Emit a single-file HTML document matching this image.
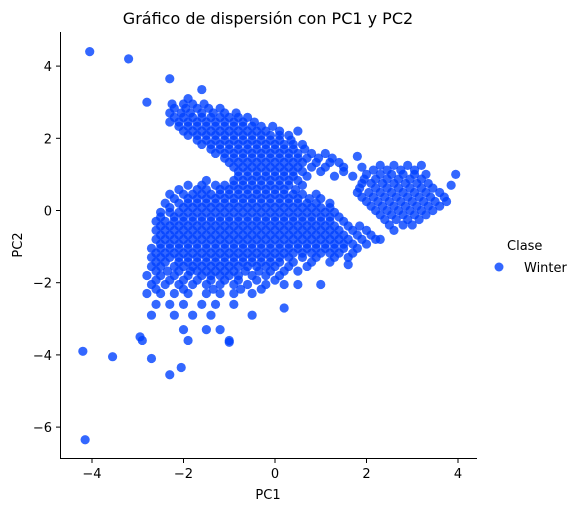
<!DOCTYPE html>
<html><head><meta charset="utf-8"><style>
body{margin:0;background:#fff;}
svg{display:block;font-family:"DejaVu Sans","Liberation Sans",sans-serif;}
</style></head><body>
<svg id="chart" width="581" height="512" viewBox="0 0 581 512">
<text x="268" y="24" font-size="16" text-anchor="middle">Gráfico de dispersión con PC1 y PC2</text>
<g id="points"></g>
<line x1="60.5" y1="32" x2="60.5" y2="458.5" stroke="#000" stroke-width="1"/>
<line x1="60" y1="458.5" x2="477" y2="458.5" stroke="#000" stroke-width="1"/>
<g id="xticks"></g>
<g id="yticks"></g>
<text x="268" y="499" font-size="13" text-anchor="middle">PC1</text>
<text transform="translate(22,245) rotate(-90)" font-size="13" text-anchor="middle">PC2</text>
<g>
<text x="507" y="250" font-size="13">Clase</text>
<circle cx="499" cy="267" r="4.5" fill="#0041ff" fill-opacity="0.8"/>
<text x="524" y="272" font-size="13">Winter</text>
</g>
</svg>
<script>
const xTicks = [-4, -2, 0, 2, 4];
const yTicks = [4, 2, 0, -2, -4, -6];
const rowY = [2.95,2.7,2.45,2.2,1.95,1.7,1.45,1.2,0.95,0.7,0.45,0.2,-0.05,-0.3,-0.55,-0.8,-1.05,-1.3,-1.55,-1.8,-2.05,-2.3,-2.6,-2.9,-3.3,-3.6,1.25,1.0,0.75,0.5,0.25,0.0,-0.25,-0.55,
2.83,2.58,2.33,2.08,1.83,1.58,1.33,1.08,0.83,0.58,0.33,0.08,-0.18,-0.43,-0.68,-0.93,-1.18,-1.43,-1.68,-1.93,-2.18,
1.12,0.87,0.62,0.37,0.12,-0.12,-0.4];
const rowX = [
[-2.25,-2.0,-1.8,-1.55],
[-2.3,-2.05,-1.85,-1.6,-1.35,-1.1,-0.85],
[-2.3,-2.1,-1.9,-1.7,-1.5,-1.3,-1.1,-0.9,-0.7,-0.45],
[-2.0,-1.8,-1.6,-1.4,-1.2,-1.0,-0.8,-0.6,-0.4,-0.2,0.1,0.5],
[-1.7,-1.5,-1.3,-1.1,-0.9,-0.7,-0.5,-0.3,-0.1,0.1,0.35],
[-1.4,-1.2,-1.0,-0.8,-0.6,-0.4,-0.2,0.0,0.2,0.4,0.65],
[-1.1,-0.9,-0.7,-0.5,-0.3,-0.1,0.1,0.3,0.5,0.7,0.95,1.25],
[-0.9,-0.7,-0.5,-0.3,-0.1,0.1,0.3,0.5,0.8,1.1,1.5,1.9],
[-0.8,-0.6,-0.4,-0.2,0.0,0.2,0.4,0.7,1.3,1.7],
[-1.9,-1.6,-1.3,-1.1,-0.9,-0.7,-0.5,-0.3,-0.1,0.1,0.3,0.6],
[-2.3,-2.0,-1.8,-1.6,-1.4,-1.2,-1.0,-0.8,-0.6,-0.4,-0.2,0.0,0.2,0.4,0.6,0.9],
[-2.4,-2.1,-1.9,-1.7,-1.5,-1.3,-1.1,-0.9,-0.7,-0.5,-0.3,-0.1,0.1,0.3,0.5,0.7,0.9,1.2],
[-2.5,-2.3,-2.1,-1.9,-1.7,-1.5,-1.3,-1.1,-0.9,-0.7,-0.5,-0.3,-0.1,0.1,0.3,0.5,0.7,0.9,1.1,1.3],
[-2.6,-2.4,-2.2,-2.0,-1.8,-1.6,-1.4,-1.2,-1.0,-0.8,-0.6,-0.4,-0.2,0.0,0.2,0.4,0.6,0.8,1.0,1.2,1.5],
[-2.6,-2.4,-2.2,-2.0,-1.8,-1.6,-1.4,-1.2,-1.0,-0.8,-0.6,-0.4,-0.2,0.0,0.2,0.4,0.6,0.8,1.0,1.2,1.4,1.7,2.0],
[-2.6,-2.4,-2.2,-2.0,-1.8,-1.6,-1.4,-1.2,-1.0,-0.8,-0.6,-0.4,-0.2,0.0,0.2,0.4,0.6,0.8,1.0,1.2,1.4,1.6,1.9,2.2],
[-2.7,-2.5,-2.3,-2.1,-1.9,-1.7,-1.5,-1.3,-1.1,-0.9,-0.7,-0.5,-0.3,-0.1,0.1,0.3,0.5,0.7,0.9,1.1,1.3,1.5,1.8],
[-2.7,-2.5,-2.3,-2.1,-1.9,-1.7,-1.5,-1.3,-1.1,-0.9,-0.7,-0.5,-0.3,-0.1,0.1,0.3,0.6,0.9,1.3,1.6],
[-2.7,-2.5,-2.2,-2.0,-1.8,-1.6,-1.4,-1.2,-1.0,-0.8,-0.6,-0.4,-0.2,0.0,0.3,0.7],
[-2.8,-2.5,-2.2,-1.9,-1.6,-1.4,-1.2,-1.0,-0.8,-0.5,-0.2,0.1],
[-2.7,-2.4,-2.1,-1.8,-1.5,-1.2,-0.9,-0.6,-0.2,0.2],
[-2.8,-2.5,-2.2,-1.9,-1.5,-1.2,-0.9,-0.5],
[-2.6,-2.3,-2.0,-1.6,-1.3,-0.9],
[-2.7,-2.2,-1.8,-1.4,-0.5],
[-2.0,-1.5,-1.2],
[-2.9,-1.9,-1.0],
[2.3,2.6,2.9,3.2],
[2.0,2.3,2.55,2.8,3.05,3.3],
[1.9,2.1,2.35,2.6,2.85,3.1,3.35],
[1.8,2.05,2.3,2.55,2.8,3.05,3.3,3.6],
[2.0,2.25,2.5,2.75,3.0,3.25,3.5,3.75],
[2.2,2.45,2.7,2.95,3.2,3.45],
[2.4,2.65,2.9,3.15],
[2.6],
[-2.2,-1.95,-1.7,-1.45,-1.2],
[-2.2,-2.0,-1.8,-1.6,-1.4,-1.2,-1.0,-0.8,-0.6],
[-2.1,-1.9,-1.7,-1.5,-1.3,-1.1,-0.9,-0.7,-0.5,-0.3,-0.05],
[-1.9,-1.7,-1.5,-1.3,-1.1,-0.9,-0.7,-0.5,-0.3,-0.1,0.1,0.3],
[-1.6,-1.4,-1.2,-1.0,-0.8,-0.6,-0.4,-0.2,0.0,0.2,0.4,0.6],
[-1.3,-1.1,-0.9,-0.7,-0.5,-0.3,-0.1,0.1,0.3,0.5,0.8,1.1],
[-1.0,-0.8,-0.6,-0.4,-0.2,0.0,0.2,0.4,0.6,0.9,1.2,1.4],
[-0.8,-0.6,-0.4,-0.2,0.0,0.2,0.4,0.6,1.0,1.5],
[-1.5,-0.9,-0.7,-0.5,-0.3,-0.1,0.1,0.3,0.5],
[-2.1,-1.7,-1.5,-1.2,-1.0,-0.8,-0.6,-0.4,-0.2,0.0,0.2,0.45],
[-2.2,-1.9,-1.7,-1.5,-1.3,-1.1,-0.9,-0.7,-0.5,-0.3,-0.1,0.1,0.3,0.5,0.75,1.0],
[-2.3,-2.0,-1.8,-1.6,-1.4,-1.2,-1.0,-0.8,-0.6,-0.4,-0.2,0.0,0.2,0.4,0.6,0.8,1.0,1.2],
[-2.5,-2.2,-2.0,-1.8,-1.6,-1.4,-1.2,-1.0,-0.8,-0.6,-0.4,-0.2,0.0,0.2,0.4,0.6,0.8,1.0,1.2,1.4],
[-2.5,-2.3,-2.1,-1.9,-1.7,-1.5,-1.3,-1.1,-0.9,-0.7,-0.5,-0.3,-0.1,0.1,0.3,0.5,0.7,0.9,1.1,1.3,1.6,1.85],
[-2.5,-2.3,-2.1,-1.9,-1.7,-1.5,-1.3,-1.1,-0.9,-0.7,-0.5,-0.3,-0.1,0.1,0.3,0.5,0.7,0.9,1.1,1.3,1.5,1.8,2.1],
[-2.5,-2.3,-2.1,-1.9,-1.7,-1.5,-1.3,-1.1,-0.9,-0.7,-0.5,-0.3,-0.1,0.1,0.3,0.5,0.7,0.9,1.1,1.3,1.5,1.7,2.0],
[-2.6,-2.4,-2.2,-2.0,-1.8,-1.6,-1.4,-1.2,-1.0,-0.8,-0.6,-0.4,-0.2,0.0,0.2,0.4,0.6,0.8,1.0,1.2,1.4,1.7],
[-2.6,-2.4,-2.1,-1.9,-1.7,-1.5,-1.3,-1.1,-0.9,-0.7,-0.5,-0.3,-0.1,0.1,0.4,0.8,1.2],
[-2.6,-2.35,-2.1,-1.85,-1.7,-1.5,-1.3,-1.1,-0.9,-0.65,-0.35,-0.1,0.2,0.5],
[-2.6,-2.3,-2.0,-1.7,-1.4,-1.1,-0.8,-0.4,0.0],
[-2.6,-2.0,-1.35,-0.75,-0.3],
[2.15,2.45,2.75,3.05],
[1.95,2.2,2.45,2.7,2.95,3.2],
[1.85,2.2,2.45,2.7,2.95,3.2,3.45],
[1.9,2.15,2.4,2.65,2.9,3.15,3.4,3.7],
[2.1,2.35,2.6,2.85,3.1,3.35,3.6],
[2.3,2.55,2.8,3.05,3.3],
[2.5,2.8,3.0]
];
const outlierX = [-4.05,-3.2,-4.2,-3.55,-4.15,-2.95,-2.7,-2.3,-2.05,-2.3,-2.8,3.95,3.85,1.8,0.5,1.0,-1.0,0.2,1.6,2.3,-1.9,-1.6];
const outlierY = [4.4,4.2,-3.9,-4.05,-6.35,-3.5,-4.1,-4.55,-4.35,3.65,3.0,1.0,0.7,1.5,-2.05,-2.05,-3.65,-2.7,-1.5,-0.8,3.1,3.35];

const X0 = 275, XS = 45.75, Y0 = 210.5, YS = 36.1;
function sx(v){ return X0 + v*XS; }
function sy(v){ return Y0 - v*YS; }
const NS = "http://www.w3.org/2000/svg";
const pc1 = [], pc2 = [];
rowY.forEach(function(y,i){ rowX[i].forEach(function(x){ pc1.push(x); pc2.push(y); }); });
outlierX.forEach(function(x,i){ pc1.push(x); pc2.push(outlierY[i]); });

const pg = document.getElementById('points');
for (let i=0;i<pc1.length;i++){
  const c = document.createElementNS(NS,'circle');
  c.setAttribute('cx', sx(pc1[i]));
  c.setAttribute('cy', sy(pc2[i]));
  c.setAttribute('r', 4.6);
  c.setAttribute('fill', '#0041ff');
  c.setAttribute('fill-opacity', '0.8');
  
  
  pg.appendChild(c);
}
const xg = document.getElementById('xticks');
xTicks.forEach(function(t){
  const l = document.createElementNS(NS,'line');
  l.setAttribute('x1', sx(t)); l.setAttribute('x2', sx(t));
  l.setAttribute('y1', 458.5); l.setAttribute('y2', 463);
  l.setAttribute('stroke', '#000');
  
  
  xg.appendChild(l);
  const tx = document.createElementNS(NS,'text');
  tx.setAttribute('x', sx(t)); tx.setAttribute('y', 478);
  tx.setAttribute('font-size', '13'); tx.setAttribute('text-anchor', 'middle');
  tx.textContent = t < 0 ? '\u2212' + Math.abs(t) : String(t);
  
  
  xg.appendChild(tx);
});
const yg = document.getElementById('yticks');
yTicks.forEach(function(t){
  const l = document.createElementNS(NS,'line');
  l.setAttribute('x1', 56); l.setAttribute('x2', 60.5);
  l.setAttribute('y1', sy(t)); l.setAttribute('y2', sy(t));
  l.setAttribute('stroke', '#000');
  
  
  yg.appendChild(l);
  const tx = document.createElementNS(NS,'text');
  tx.setAttribute('x', 52); tx.setAttribute('y', sy(t)+5);
  tx.setAttribute('font-size', '13'); tx.setAttribute('text-anchor', 'end');
  tx.textContent = t < 0 ? '\u2212' + Math.abs(t) : String(t);
  
  
  yg.appendChild(tx);
});
</script>
</body></html>
